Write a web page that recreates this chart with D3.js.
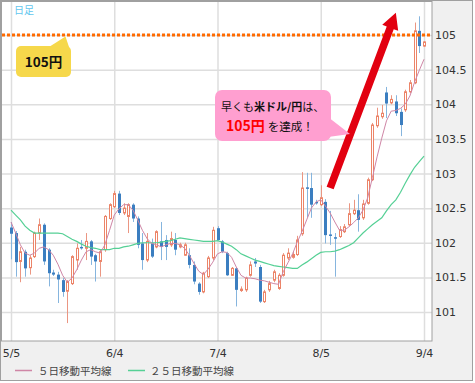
<!DOCTYPE html>
<html><head><meta charset="utf-8">
<script src="https://cdn.jsdelivr.net/npm/d3@7"></script>
<style>body{margin:0;background:#fff} svg{display:block}</style>
</head><body>
<svg id="c" width="475" height="383"></svg>
<script>
// ---- data (USD/JPY daily, 2014) ----
const dates = ["5/5","5/6","5/7","5/8","5/9","5/12","5/13","5/14","5/15","5/16","5/19","5/20","5/21","5/22","5/23","5/26","5/27","5/28","5/29","5/30",
"6/2","6/3","6/4","6/5","6/6","6/9","6/10","6/11","6/12","6/13","6/16","6/17","6/18","6/19","6/20","6/23","6/24","6/25","6/26","6/27","6/30",
"7/1","7/2","7/3","7/4","7/7","7/8","7/9","7/10","7/11","7/14","7/15","7/16","7/17","7/18","7/21","7/22","7/23","7/24","7/25","7/28","7/29","7/30","7/31",
"8/1","8/4","8/5","8/6","8/7","8/8","8/11","8/12","8/13","8/14","8/15","8/18","8/19","8/20","8/21","8/22","8/25","8/26","8/27","8/28","8/29",
"9/1","9/2","9/3","9/4"];
const open = [102.22,102.14,101.73,101.87,101.64,101.80,102.14,102.26,101.90,101.57,
101.54,101.46,101.30,101.41,101.75,101.94,101.92,102.02,101.82,101.73,
101.90,102.35,102.52,102.71,102.43,102.38,102.55,102.35,101.99,101.75,
101.99,101.94,102.02,102.04,101.97,102.04,101.94,101.82,101.82,101.68,
101.41,101.29,101.51,101.78,102.21,102.02,101.85,101.53,101.63,101.31,
101.32,101.53,101.73,101.65,101.15,101.32,101.46,101.34,101.53,101.78,
101.79,101.83,102.13,102.80,102.79,102.59,102.55,102.59,102.12,102.08,
102.09,102.16,102.26,102.42,102.47,102.36,102.57,102.91,103.69,103.82,
104.17,104.02,104.04,103.89,103.92,104.18,104.31,105.06,104.84];
const high = [102.30,102.17,101.94,101.90,101.82,102.16,102.35,102.28,101.92,101.61,
101.58,101.49,101.46,101.82,101.99,102.04,102.14,102.04,101.84,101.90,
102.40,102.57,102.75,102.75,102.57,102.57,102.57,102.38,102.14,102.14,
102.06,102.18,102.30,102.11,102.16,102.14,102.00,102.00,101.92,101.73,
101.43,101.58,101.81,102.23,102.24,102.04,101.87,101.65,101.65,101.37,
101.51,101.73,101.78,101.68,101.32,101.45,101.61,101.56,101.85,101.92,
101.87,102.10,103.02,103.01,103.01,102.62,102.83,102.63,102.46,102.14,
102.24,102.27,102.57,102.62,102.70,102.62,102.94,103.73,103.95,103.99,
104.25,104.13,104.13,103.94,104.21,104.35,105.18,105.27,104.91];
const low = [101.76,101.51,101.43,101.51,101.54,101.78,102.04,101.68,101.37,101.52,
101.13,101.22,100.84,101.39,101.61,101.90,101.75,101.68,101.44,101.51,
101.87,102.33,102.50,102.40,102.40,102.14,102.30,101.92,101.61,101.72,
101.78,101.92,101.75,101.75,101.94,101.82,101.92,101.81,101.63,101.40,
101.25,101.27,101.49,101.75,102.03,101.85,101.52,101.52,101.08,101.29,
101.29,101.51,101.65,101.13,101.13,101.29,101.43,101.32,101.51,101.75,
101.77,101.81,102.10,102.37,102.36,102.55,102.53,101.99,101.97,101.51,
102.07,102.14,102.24,102.40,102.16,102.33,102.55,102.89,103.66,103.79,
103.80,104.00,103.83,103.54,103.89,104.16,104.29,104.74,104.83];
const close = [102.13,101.72,101.87,101.63,101.78,102.14,102.26,101.73,101.56,101.54,
101.47,101.29,101.44,101.80,101.92,101.92,102.02,101.80,101.73,101.87,
102.38,102.55,102.71,102.43,102.50,102.55,102.35,101.97,101.75,102.02,
101.80,102.16,101.94,101.94,102.06,101.90,101.97,101.97,101.68,101.44,
101.29,101.56,101.78,102.18,102.04,101.87,101.53,101.63,101.32,101.33,
101.49,101.68,101.70,101.15,101.29,101.41,101.58,101.53,101.82,101.85,
101.83,102.04,102.79,102.78,102.55,102.57,102.65,102.11,102.10,102.06,
102.19,102.23,102.42,102.47,102.33,102.56,102.91,103.70,103.83,103.87,
104.01,104.07,103.87,103.70,104.18,104.31,105.06,104.84,104.90];
const ma5 = [102.30,102.14,101.97,101.85,101.82,101.85,101.92,101.94,101.90,101.82,
101.69,101.53,101.43,101.49,101.61,101.75,101.87,101.90,101.87,101.85,
101.97,102.18,102.40,102.49,102.55,102.55,102.47,102.33,102.18,102.06,
101.99,101.97,101.94,101.97,101.99,101.99,101.97,101.92,101.82,101.70,
101.59,101.54,101.62,101.72,101.84,101.87,101.86,101.79,101.65,101.53,
101.49,101.49,101.48,101.46,101.45,101.43,101.41,101.40,101.58,101.71,
101.84,102.01,102.16,102.33,102.50,102.59,102.62,102.53,102.43,102.30,
102.18,102.18,102.23,102.29,102.36,102.47,102.65,102.94,103.24,103.51,
103.76,103.90,103.91,103.94,104.00,104.12,104.32,104.49,104.65];
const ma25 = [102.47,102.40,102.33,102.24,102.18,102.14,102.14,102.14,102.14,102.14,
102.14,102.13,102.09,102.05,102.02,101.98,101.95,101.93,101.92,101.90,
101.90,101.90,101.92,101.92,101.94,101.95,101.97,101.99,102.00,102.00,
102.00,102.00,102.01,102.02,102.03,102.05,102.07,102.06,102.05,102.04,
102.03,102.02,102.02,102.02,102.03,102.01,101.98,101.95,101.90,101.84,
101.81,101.78,101.75,101.73,101.71,101.69,101.67,101.66,101.65,101.64,
101.63,101.63,101.68,101.72,101.77,101.82,101.86,101.87,101.87,101.88,
101.90,101.93,101.96,102.00,102.07,102.14,102.20,102.26,102.31,102.36,
102.46,102.55,102.62,102.73,102.86,102.98,103.09,103.17,103.25];
const yTicks = [101,101.5,102,102.5,103,103.5,104,104.5,105];
const yTickLabels = ["101","101.5","102","102.5","103","103.5","104","104.5","105"];
const xTicks = ["5/5","6/4","7/4","8/5","9/4"];
const legendNames = ["５日移動平均線","２５日移動平均線"];
const targetLevel = 105;
const arrowFrom = {date:"8/7", value:102.79};
const arrowTo = {date:"8/27", value:105.32};

// ---- drawing ----
const svg = d3.select("#c");
const P = {l:2, t:2, r:432, b:341};
const x = d3.scalePoint().domain(dates).range([11, 424]);
const y = d3.scaleLinear().domain([101, 105]).range([312, 35]);
const cUpStroke = "#ec8468", cUpWick = "#eb9682", cDn = "#3b7ec0", cDnWick = "#86b5de";
const cMa5 = "#cf86a6", cMa25 = "#55d095";

svg.append("rect").attr("x",0.5).attr("y",0.5).attr("width",472).attr("height",380)
  .attr("fill","#f0f0f0").attr("stroke","#a0a0a0");
svg.append("rect").attr("x",P.l).attr("y",P.t).attr("width",P.r-P.l).attr("height",P.b-P.t).attr("fill","#fff");

// grid
const gy = svg.append("g").attr("transform",`translate(${P.l},0)`)
  .call(d3.axisRight(y).tickValues(yTicks).tickSize(P.r-P.l).tickFormat(""));
gy.select(".domain").remove();
gy.selectAll("line").attr("stroke","#dedede").attr("stroke-width",1.5);
const gx = svg.append("g").attr("transform",`translate(0,${P.t})`)
  .call(d3.axisBottom(x).tickValues(xTicks).tickSize(P.b-P.t).tickFormat(""));
gx.select(".domain").remove();
gx.selectAll("line").attr("stroke","#dedede").attr("stroke-width",1.5);

svg.append("rect").attr("x",1.5).attr("y",1.5).attr("width",P.r-1.5).attr("height",P.b-1.5)
  .attr("fill","none").attr("stroke","#a0a0a0");

svg.append("clipPath").attr("id","clip").append("rect")
  .attr("x",P.l).attr("y",P.t).attr("width",P.r-P.l).attr("height",P.b-P.t);
const plot = svg.append("g").attr("clip-path","url(#clip)");

// candles
const idx = d3.range(dates.length);
const cg = plot.append("g");
idx.forEach(i=>{
  const cx = Math.round(x(dates[i]));
  const up = close[i] >= open[i];
  cg.append("line").attr("x1",cx+0.5).attr("x2",cx+0.5)
    .attr("y1",y(high[i])).attr("y2",y(low[i]))
    .attr("stroke", up?cUpWick:cDnWick).attr("stroke-width",1);
  const top = y(Math.max(open[i],close[i])), bot = y(Math.min(open[i],close[i]));
  if (up) {
    cg.append("rect").attr("x",cx-0.5).attr("width",2)
      .attr("y",top).attr("height",Math.max(1,bot-top))
      .attr("fill","#fff").attr("stroke",cUpStroke).attr("stroke-width",1);
  } else {
    cg.append("rect").attr("x",cx-1).attr("width",3)
      .attr("y",top).attr("height",Math.max(1.5,bot-top))
      .attr("fill",cDn);
  }
});

// moving averages
const line = arr => d3.line().x((d,i)=>x(dates[i])).y(d=>y(d))(arr);
plot.append("path").attr("d",line(ma25)).attr("fill","none").attr("stroke",cMa25).attr("stroke-width",1.2);
plot.append("path").attr("d",line(ma5)).attr("fill","none").attr("stroke",cMa5).attr("stroke-width",1);

// target line
plot.append("line").attr("x1",P.l).attr("x2",P.r).attr("y1",y(targetLevel)).attr("y2",y(targetLevel))
  .attr("stroke","#ff6a00").attr("stroke-width",3).attr("stroke-dasharray","3,2");

// axes labels
const ay = svg.append("g").attr("transform",`translate(${P.r},0)`)
  .call(d3.axisRight(y).tickValues(yTicks).tickSize(0).tickPadding(3).tickFormat((d,i)=>yTickLabels[i]));
ay.select(".domain").remove();
ay.selectAll("text").attr("font-family","DejaVu Sans, Verdana, sans-serif").attr("font-size",11).attr("fill","#333");
const ax = svg.append("g").attr("transform",`translate(0,${P.b})`)
  .call(d3.axisBottom(x).tickValues(xTicks).tickSize(0).tickPadding(8));
ax.select(".domain").remove();
ax.selectAll("text").attr("font-family","DejaVu Sans, Verdana, sans-serif").attr("font-size",11).attr("fill","#333");

// 日足 label
svg.append("text").attr("x",14).attr("y",14).text("日足")
  .attr("font-family","Noto Sans CJK JP").attr("font-size",10).attr("fill","#62c6ee");

// yellow callout
svg.append("polygon").attr("points","49,47 65.5,36.5 69,47").attr("fill","#f6d84b");
svg.append("rect").attr("x",16).attr("y",46).attr("width",55).attr("height",31).attr("rx",5).attr("fill","#f6d84b");
svg.append("text").attr("x",43.5).attr("y",66.5).attr("text-anchor","middle").text("105円")
  .attr("font-family","Noto Sans CJK JP").attr("font-weight","bold").attr("font-size",13.5).attr("fill","#111");

// red arrow
(function(){
  const t = [x(arrowFrom.date), y(arrowFrom.value)], h = [x(arrowTo.date), y(arrowTo.value)];
  const dx = h[0]-t[0], dy = h[1]-t[1], L = Math.hypot(dx,dy);
  const u = [dx/L, dy/L], n = [-u[1], u[0]];
  const sw = 7.5/2, hw = 17/2, hl = 16;
  const b = [h[0]-u[0]*hl, h[1]-u[1]*hl];
  const pts = [
    [t[0]+n[0]*sw, t[1]+n[1]*sw], [b[0]+n[0]*sw, b[1]+n[1]*sw], [b[0]+n[0]*hw, b[1]+n[1]*hw],
    h, [b[0]-n[0]*hw, b[1]-n[1]*hw], [b[0]-n[0]*sw, b[1]-n[1]*sw], [t[0]-n[0]*sw, t[1]-n[1]*sw]];
  svg.append("polygon").attr("points",pts.map(p=>p.join(",")).join(" ")).attr("fill","#e20010");
})();

// pink callout
svg.append("polygon").attr("points","328,117 350,134 328,137").attr("fill","#ff9fd0");
svg.append("rect").attr("x",215).attr("y",90).attr("width",116).attr("height",51).attr("rx",7).attr("fill","#ff9fd0");
const t1 = svg.append("text").attr("x",221).attr("y",111)
  .attr("font-family","Noto Sans CJK JP").attr("font-size",11).attr("fill","#111");
t1.append("tspan").text("早くも");
t1.append("tspan").attr("font-weight","bold").text("米ドル/円");
t1.append("tspan").text("は、");
const t2 = svg.append("text").attr("x",226).attr("y",131)
  .attr("font-family","Noto Sans CJK JP").attr("fill","#111");
t2.append("tspan").attr("font-weight","bold").attr("font-size",14).attr("fill","#ff0000").text("105円");
t2.append("tspan").attr("font-size",11.5).attr("dx",3).text("を達成！");

// legend
const lg = svg.append("g");
[[15,38,cMa5],[128,150,cMa25]].forEach((p,i)=>{
  lg.append("line").attr("x1",p[0]).attr("x2",p[0]+17).attr("y1",370.5).attr("y2",370.5)
    .attr("stroke",p[2]).attr("stroke-width",1.5);
  lg.append("text").attr("x",p[1]).attr("y",375).text(legendNames[i])
    .attr("font-family","Noto Sans CJK JP").attr("font-size",10.5).attr("fill","#444");
});
</script>
</body></html>
